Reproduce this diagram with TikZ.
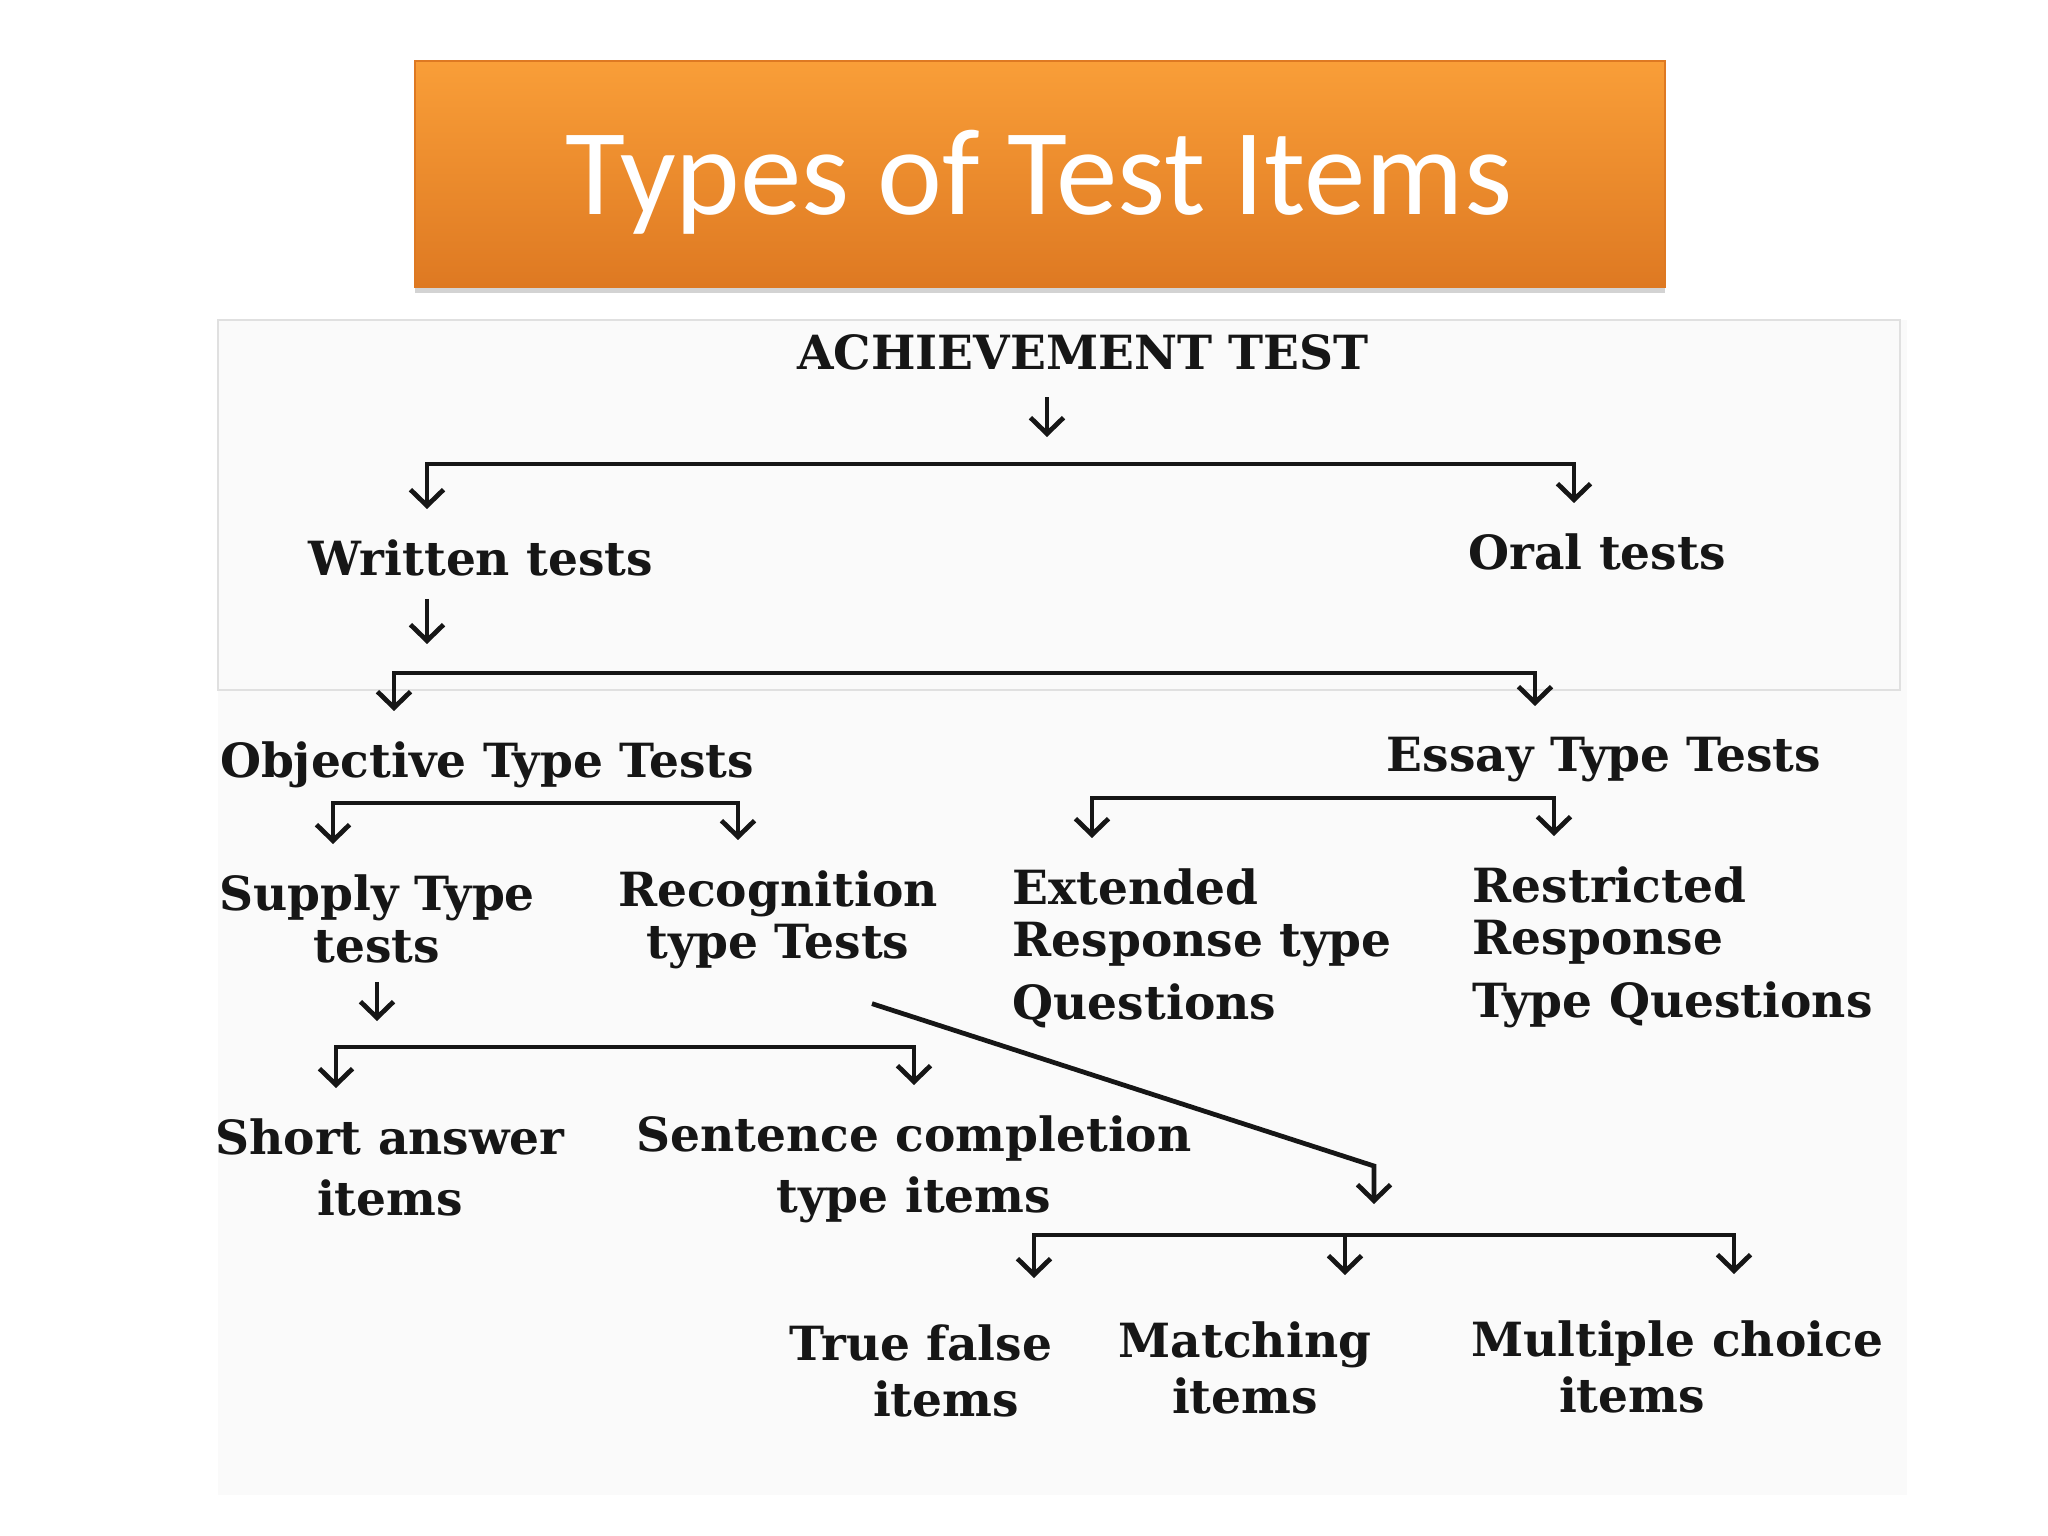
\documentclass[tikz,border=0pt]{standalone}
\usepackage{fontspec}
\setmainfont{DejaVu Serif}
\newfontfamily\titlefont{Carlito}
\usepackage{tikz}
\usetikzlibrary{positioning,calc,shadows}
\usetikzlibrary{arrows.meta}
\definecolor{bannertop}{RGB}{249,158,56}
\definecolor{bannerbot}{RGB}{222,121,34}
\definecolor{ink}{RGB}{22,22,22}
\tikzstyle{banner} = [rectangle, minimum width=12.5cm, minimum height=2.26cm, top color=bannertop, bottom color=bannerbot, draw=bannerbot, drop shadow={shadow xshift=0pt, shadow yshift=-0.6mm, opacity=0.35}]
\tikzstyle{lbl} = [inner sep=0pt, anchor=north, align=center, text=ink, font=\fontsize{13.4}{14.8}\selectfont\bfseries]
\tikzstyle{arrow} = [line width=1.35pt, draw=ink, -{Straight Barb[length=1.6mm,width=3.3mm]}]
\tikzstyle{fork} = [arrow, {Straight Barb[length=1.6mm,width=3.3mm]}-{Straight Barb[length=1.6mm,width=3.3mm]}, shorten <=0.3cm, shorten >=0.3cm]

\begin{document}
\begin{tikzpicture}
	\useasboundingbox (0,0) rectangle (20.48,-15.36);
	% scanned page
	\fill[black!2] (2.18,-3.20) rectangle (19.07,-14.95);
	\draw[black!12, line width=0.8pt] (2.18,-3.20) rectangle (19.00,-6.90);
	% heading
	\node[banner] (ban) at (10.40,-1.74) {};
	\node[anchor=base, text=white, font=\titlefont\fontsize{35}{40}\selectfont] (title) at (10.39,-2.15) {Types of Test Items};
	% tree
	\node[lbl] (ach) at (10.83,-3.34) {ACHIEVEMENT TEST};
	\node[lbl] (wri) at (4.81,-5.39) {Written tests};
	\node[lbl] (ora) at (15.97,-5.33) {Oral tests};
	\node[lbl] (obj) at (4.87,-7.41) {Objective Type Tests};
	\node[lbl] (ess) at (16.04,-7.36) {Essay Type Tests};
	\node[lbl] (sup) at (3.77,-8.74) {Supply Type\\ tests};
	\node[lbl] (rec) at (7.78,-8.70) {Recognition\\ type Tests};
	\node[lbl, anchor=north west, align=left] (ext) at (10.12,-8.68) {Extended\\ Response type\\[3pt] Questions};
	\node[lbl, anchor=north west, align=left] (res) at (14.72,-8.66) {Restricted\\ Response\\[3pt] Type Questions};
	\node[lbl] (sho) at (3.90,-11.18) {Short answer\\[2.5pt] items};
	\node[lbl] (sen) at (9.14,-11.15) {Sentence completion\\[2.5pt] type items};
	\node[lbl] (tf) at (9.21,-13.24) {True false\\[1pt] \hspace*{0.5cm}items};
	\node[lbl] (mat) at (12.45,-13.21) {Matching\\[1pt] items};
	\node[lbl] (mul) at (16.77,-13.20) {Multiple choice\\[1pt] items\hspace*{0.9cm}};

	\coordinate (t0) at (10.47,-4.37);
	\coordinate (b1l) at (4.27,-4.64);
	\coordinate (b1r) at (15.74,-4.64);
	\coordinate (t1) at (4.27,-6.44);
	\coordinate (b2l) at (3.94,-6.73);
	\coordinate (b2r) at (15.35,-6.73);
	\coordinate (b3l) at (3.33,-8.03);
	\coordinate (b3r) at (7.38,-8.03);
	\coordinate (b4l) at (10.92,-7.98);
	\coordinate (b4r) at (15.54,-7.98);
	\coordinate (t2) at (3.77,-10.21);
	\coordinate (b5l) at (3.36,-10.47);
	\coordinate (b5r) at (9.14,-10.47);
	\coordinate (dg) at (13.74,-11.66);
	\coordinate (b6l) at (10.34,-12.35);
	\coordinate (b6m) at (13.45,-12.35);
	\coordinate (b6r) at (17.34,-12.35);

	\draw[arrow, shorten <=0.26cm] (ach.south -| t0) -- (t0);
	\draw[fork] (b1l |- wri.north) -- (b1l) -- (b1r) -- (b1r |- ora.north);
	\draw[arrow, shorten <=0.22cm] (wri.south -| t1) -- (t1);
	\draw[fork] (b2l |- obj.north) -- (b2l) -- (b2r) -- (b2r |- ess.north);
	\draw[fork] (b3l |- sup.north) -- (b3l) -- (b3r) -- (b3r |- rec.north);
	\draw[fork] (b4l |- ext.north) -- (b4l) -- (b4r) -- (b4r |- res.north);
	\draw[arrow, shorten <=0.18cm] (sup.south -| t2) -- (t2);
	\draw[fork] (b5l |- sho.north) -- (b5l) -- (b5r) -- (b5r |- sen.north);
	\draw[arrow, shorten >=0.31cm] ($(rec.south)+(0.94,-0.34)$) -- (dg) -- (dg |- b6m);
	\draw[fork, shorten <=0.46cm, shorten >=0.46cm] (b6l |- tf.north) -- (b6l) -- (b6r) -- (b6r |- mul.north);
	\draw[arrow, shorten >=0.46cm] (b6m) -- (b6m |- mat.north);
\end{tikzpicture}
\end{document}
